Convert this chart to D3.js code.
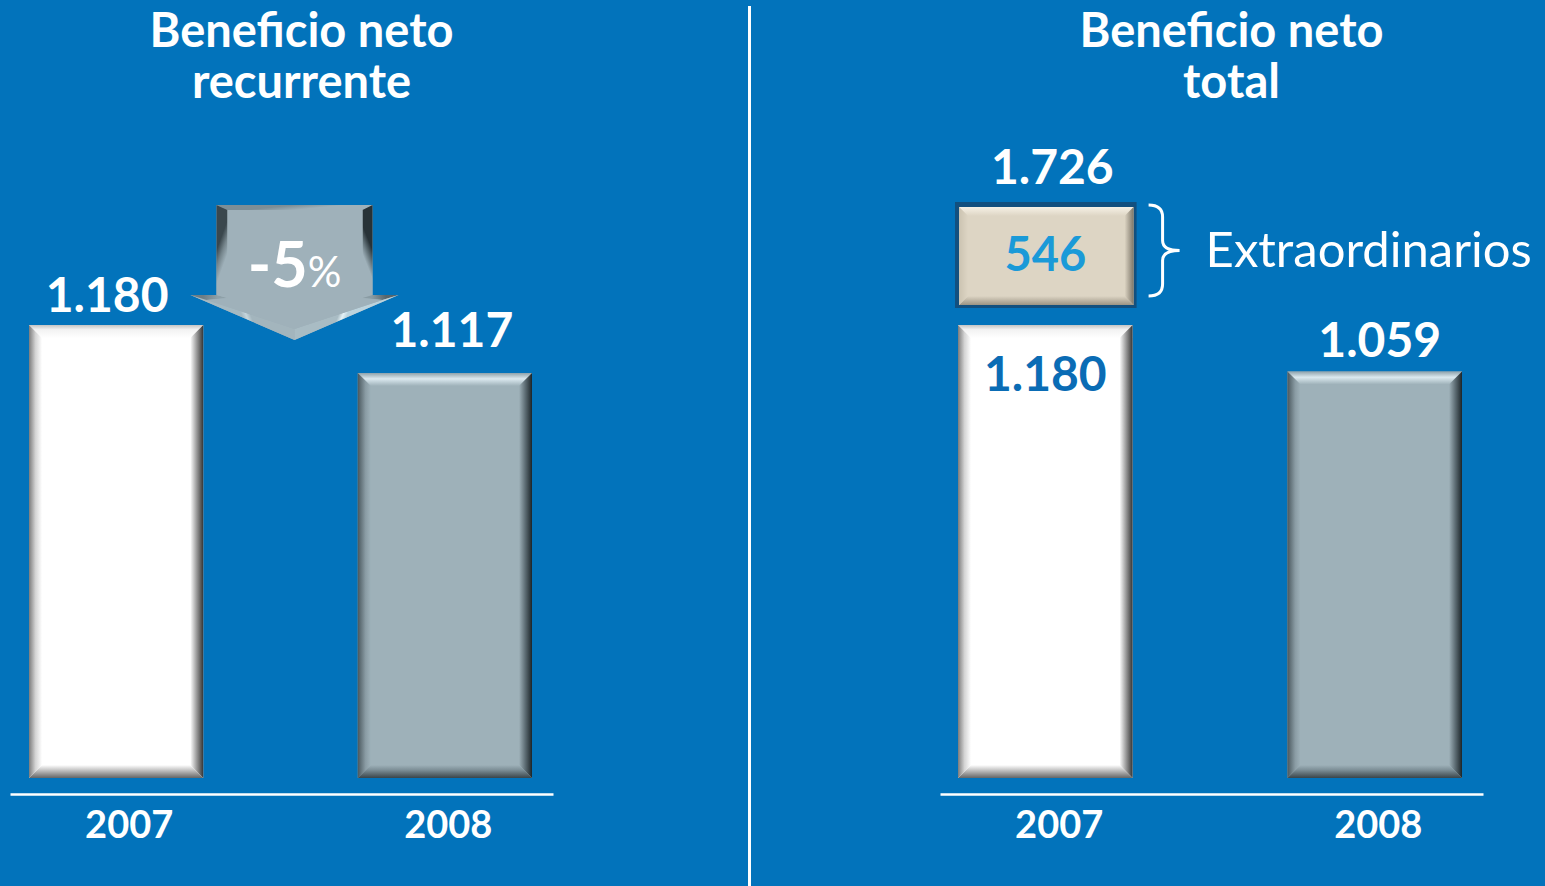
<!DOCTYPE html>
<html>
<head>
<meta charset="utf-8">
<script src="https://cdn.jsdelivr.net/npm/d3@7"></script>
<style>
  html, body { margin: 0; padding: 0; background: #0273bb; }
  svg { display: block; }
  text { font-family: Lato, "Open Sans", sans-serif; }
</style>
</head>
<body>
<div id="chart"></div>
<script>

// ---- data ----
var years         = ["2007", "2008"];
var recurrente    = [1180, 1117];
var total         = [1180, 1059];
var extraValue    = 546;
var totalWithExtra = 1726;
var changeLabel   = "-5";
var titleLeft     = ["Beneficio neto", "recurrente"];
var titleRight    = ["Beneficio neto", "total"];
var extraLabel    = "Extraordinarios";

// spanish number format: 1.180
var es = d3.formatLocale({decimal: ",", thousands: ".", grouping: [3], currency: ["", " €"]});
var fmt = es.format(",");

var W = 1545, H = 886;
var blue = "#0273bb";

var svg = d3.select("#chart").append("svg")
            .attr("width", W)
            .attr("height", H);

var defs = svg.append("defs");
var gradId = 0;

svg.append("rect").attr("width", W).attr("height", H).attr("fill", blue);

// divider between the two panels
svg.append("line")
   .attr("x1", 749.5).attr("x2", 749.5)
   .attr("y1", 6).attr("y2", H)
   .attr("stroke", "#ffffff").attr("stroke-width", 3);

// bevel styles (outer -> inner) per edge: top, right, bottom, left
var whiteBevel = {
  face: "#ffffff",
  edges: [
    [[0, "#c4c4c4"], [0.35, "#f2f2f2"], [1, "#ffffff"]],
    [[0, "#353535"], [0.5, "#999999"], [1, "#ffffff"]],
    [[0, "#666666"], [0.5, "#b4b4b4"], [1, "#ffffff"]],
    [[0, "#7c7c7c"], [0.5, "#d4d4d4"], [1, "#ffffff"]]
  ]
};
var greyBevel = {
  face: "#9eb1b9",
  edges: [
    [[0, "#8ea2ab"], [0.45, "#dbe9ef"], [1, "#9eb1b9"]],
    [[0, "#1c2529"], [0.5, "#5b6a71"], [1, "#9eb1b9"]],
    [[0, "#3a454a"], [0.6, "#7b8d95"], [1, "#9eb1b9"]],
    [[0, "#4a585e"], [0.6, "#8a9ca4"], [1, "#9eb1b9"]]
  ]
};
var beigeBevel = {
  face: "#ddd5c4",
  edges: [
    [[0, "#f6f1e6"], [1, "#ddd5c4"]],
    [[0, "#7d7668"], [1, "#ddd5c4"]],
    [[0, "#9c9484"], [1, "#ddd5c4"]],
    [[0, "#cbc3b1"], [1, "#ddd5c4"]]
  ]
};

function mid(a, b) { return [(a[0] + b[0]) / 2, (a[1] + b[1]) / 2]; }

// draws a polygon with a beveled rim: one shaded facet per outer edge
function bevelPoly(g, outer, inner, face, edges) {
  g.append("polygon").attr("points", outer.join(" ")).attr("fill", face);
  outer.forEach(function (p, i) {
    var j = (i + 1) % outer.length;
    var om = mid(outer[i], outer[j]), im = mid(inner[i], inner[j]);
    var id = "bev" + (gradId++);
    var grad = defs.append("linearGradient")
                   .attr("id", id)
                   .attr("gradientUnits", "userSpaceOnUse")
                   .attr("x1", om[0]).attr("y1", om[1])
                   .attr("x2", im[0]).attr("y2", im[1]);
    edges[i].forEach(function (s) {
      grad.append("stop").attr("offset", s[0]).attr("stop-color", s[1]);
    });
    g.append("polygon")
     .attr("points", [outer[i], outer[j], inner[j], inner[i]].join(" "))
     .attr("fill", "url(#" + id + ")");
  });
  g.append("polygon").attr("points", inner.join(" ")).attr("fill", face);
}

function bevelRect(g, x, y, w, h, style, b) {
  var outer = [[x, y], [x + w, y], [x + w, y + h], [x, y + h]];
  var inner = [[x + b, y + b], [x + w - b, y + b], [x + w - b, y + h - b], [x + b, y + h - b]];
  bevelPoly(g, outer, inner, style.face, style.edges);
}

// ---- one panel ----
function drawPanel(opts) {

  var g = svg.append("g");

  var x = d3.scaleBand().domain(years).range(opts.barRange).paddingInner(0.47);
  var y = d3.scaleLinear().domain(opts.yDomain).range([778, 325]);

  // axis line + year labels
  var xAxisScale = d3.scalePoint().domain(years).range(opts.axisRange).padding(0.351).align(0.53);
  var axis = g.append("g")
              .attr("transform", "translate(0,794)")
              .call(d3.axisBottom(xAxisScale).tickSize(0).tickSizeOuter(0).tickPadding(17));
  axis.select(".domain").attr("stroke", "#ffffff").attr("stroke-width", 2.5);
  axis.selectAll(".tick text")
      .attr("fill", "#ffffff")
      .attr("font-family", "Lato, 'Open Sans', sans-serif")
      .attr("font-weight", "bold")
      .attr("font-size", 38);

  // title
  var tcx = (opts.axisRange[0] + opts.axisRange[1]) / 2 + 20;
  g.selectAll(".title")
   .data(opts.title)
   .enter().append("text")
   .attr("class", "title")
   .attr("x", tcx)
   .attr("y", function (d, i) { return 47 + i * 51; })
   .attr("text-anchor", "middle")
   .attr("fill", "#ffffff")
   .attr("font-weight", "bold")
   .attr("font-size", 47)
   .text(function (d) { return d; });

  // bars
  opts.values.forEach(function (v, i) {
    var yr = years[i];
    var bw = x.bandwidth();
    var top = y(v);
    bevelRect(g, x(yr), top, bw, y.range()[0] - top, i === 0 ? whiteBevel : greyBevel, 13);
  });

  return {g: g, x: x, y: y};
}

function valueLabel(g, cx, baseline, text, color, size) {
  g.append("text")
   .attr("x", cx)
   .attr("y", baseline)
   .attr("text-anchor", "middle")
   .attr("fill", color)
   .attr("font-weight", "bold")
   .attr("font-size", size)
   .text(text);
}

// ---- left panel: beneficio neto recurrente ----
var L = drawPanel({
  barRange: [29, 532],
  axisRange: [10, 553],
  yDomain: [585, 1180],
  values: recurrente,
  title: titleLeft
});

var bwL = L.x.bandwidth();
valueLabel(L.g, L.x("2007") + bwL / 2 - 9, L.y(recurrente[0]) - 13, fmt(recurrente[0]), "#ffffff", 48);
valueLabel(L.g, L.x("2008") + bwL / 2 + 7, L.y(recurrente[1]) - 26, fmt(recurrente[1]), "#ffffff", 48);

// down arrow with the change
var acx = (L.x("2007") + bwL + L.x("2008")) / 2 + 14;
var atop = L.y(recurrente[0]) - 120;
var arrowOuter = [
  [acx - 78, atop], [acx + 78, atop], [acx + 78, atop + 90], [acx + 104, atop + 90],
  [acx, atop + 135], [acx - 104, atop + 90], [acx - 78, atop + 90]
];
var arrowInner = [
  [acx - 67, atop + 5], [acx + 68, atop + 5], [acx + 68, atop + 93], [acx + 88, atop + 95],
  [acx, atop + 124], [acx - 88, atop + 95], [acx - 67, atop + 93]
];
bevelPoly(L.g, arrowOuter, arrowInner, "#9fb1ba", [
  [[0, "#7d8e96"], [1, "#9fb1ba"]],
  [[0, "#273237"], [0.5, "#63737a"], [1, "#9fb1ba"]],
  [[0, "#56656c"], [1, "#8a9ca4"]],
  [[0, "#bcd3dd"], [0.5, "#e4f2f7"], [1, "#a9bcc4"]],
  [[0, "#a6b9c1"], [0.5, "#c6d6dd"], [1, "#a3b5bd"]],
  [[0, "#6c7d85"], [1, "#8ea0a8"]],
  [[0, "#3a474d"], [0.5, "#75858c"], [1, "#9fb1ba"]]
]);
var pct = L.g.append("text")
             .attr("x", acx)
             .attr("y", atop + 82)
             .attr("text-anchor", "middle")
             .attr("fill", "#ffffff");
pct.append("tspan").attr("font-weight", "bold").attr("font-size", 63).text(changeLabel);
pct.append("tspan").attr("font-weight", "normal").attr("font-size", 42).text("%");

// ---- right panel: beneficio neto total ----
var R = drawPanel({
  barRange: [958, 1462],
  axisRange: [940, 1483],
  yDomain: [0, 1180],
  values: total,
  title: titleRight
});

var bwR = R.x.bandwidth();

// extraordinary items box stacked over the 2007 bar (compressed scale)
var yExtra = d3.scaleLinear().domain([0, extraValue]).range([0, 100]);
var boxBottom = R.y(total[0]) - 20;
var boxH = yExtra(extraValue);
var boxX = R.x("2007") - 1, boxW = bwR + 2;
R.g.append("rect")
   .attr("x", boxX - 2).attr("y", boxBottom - boxH - 3)
   .attr("width", boxW + 5).attr("height", boxH + 6)
   .attr("fill", "#12507f");
bevelRect(R.g, boxX + 2, boxBottom - boxH + 2, boxW - 2, boxH - 2, beigeBevel, 9);

valueLabel(R.g, boxX + boxW / 2, boxBottom - boxH / 2 + 16, fmt(extraValue), "#1a9ad8", 47);
valueLabel(R.g, R.x("2007") + bwR / 2 + 7, boxBottom - boxH - 21, fmt(totalWithExtra), "#ffffff", 48);
valueLabel(R.g, R.x("2007") + bwR / 2, R.y(total[0]) + 66, fmt(total[0]), "#0a6cb5", 48);
valueLabel(R.g, R.x("2008") + bwR / 2 + 5, R.y(total[1]) - 14, fmt(total[1]), "#ffffff", 48);

// brace + label
var bx = boxX + boxW + 15, by0 = boxBottom - boxH, by1 = boxBottom - 9, bym = (by0 + by1) / 2;
R.g.append("path")
   .attr("d", "M" + bx + "," + by0 +
              " Q" + (bx + 14) + "," + by0 + " " + (bx + 14) + "," + (by0 + 12) +
              " L" + (bx + 14) + "," + (bym - 10) +
              " Q" + (bx + 14) + "," + bym + " " + (bx + 31) + "," + bym +
              " Q" + (bx + 14) + "," + bym + " " + (bx + 14) + "," + (bym + 10) +
              " L" + (bx + 14) + "," + (by1 - 12) +
              " Q" + (bx + 14) + "," + by1 + " " + bx + "," + by1)
   .attr("fill", "none")
   .attr("stroke", "#ffffff")
   .attr("stroke-width", 3);

R.g.append("text")
   .attr("x", bx + 57)
   .attr("y", bym + 16)
   .attr("fill", "#ffffff")
   .attr("font-size", 49)
   .text(extraLabel);

</script>
</body>
</html>
